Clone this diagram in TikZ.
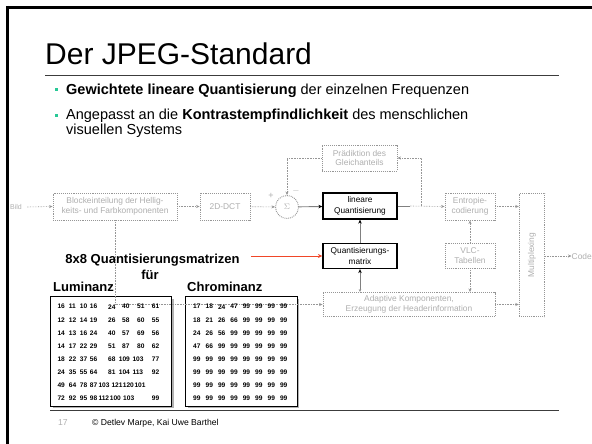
\documentclass[tikz,border=0pt]{standalone}
\usepackage{fontspec}
\setmainfont{Liberation Sans}
\usetikzlibrary{arrows.meta,calc}

\definecolor{dgray}{RGB}{150,150,150}
\definecolor{ltext}{RGB}{175,175,175}
\definecolor{bulletc}{RGB}{40,200,150}
\definecolor{redarrow}{RGB}{240,70,40}
\definecolor{rulec}{RGB}{60,60,60}

\begin{document}
\begin{tikzpicture}[x=1pt,y=-1pt,
  gbox/.style={draw=dgray, densely dotted, line width=0.9pt, text=ltext,
    font=\fontsize{8.4}{9.8}\selectfont, align=center, inner sep=0pt},
  kbox/.style={draw=black, line width=1.3pt, font=\fontsize{8.3}{10.5}\selectfont,
    align=center, inner sep=0pt},
  gline/.style={draw=dgray, densely dotted, line width=0.6pt},
  gtip/.style={-{Stealth[length=3.5pt,width=3pt]}},
  ktip/.style={draw=gray, line width=0.9pt, -{Stealth[length=4pt,width=3.5pt,color=black]}},
  bullet/.style={fill=bulletc, minimum size=3pt, inner sep=0pt},
  btext/.style={anchor=base west, inner sep=0pt, font=\fontsize{14.5}{17}\selectfont},
  tab/.style={draw=black, line width=0.8pt, fill=white, inner sep=0pt},
  num/.style={inner sep=0pt, font=\fontsize{6.6}{8}\selectfont\bfseries},
  heading/.style={inner sep=0pt, font=\fontsize{13}{15}\selectfont\bfseries}
]
\useasboundingbox (0,0) rectangle (592,444);
\fill[white] (0,0) rectangle (592,444);

% slide frame
\draw[line width=2.5pt] (6,7.5) -- (592,7.5);
\draw[line width=3pt] (7.5,6) -- (7.5,444);

% title and rule
\node[anchor=base west, inner sep=0pt, font=\fontsize{30}{36}\selectfont] (title) at (45,65) {Der JPEG-Standard};
\coordinate (tr1) at (45,75);
\coordinate (tr2) at (559,75);
\draw[rulec, line width=0.8pt] (tr1) -- (tr2);

% bullets
\node[bullet] (b1) at (56,90) {};
\node[btext] (t1) at (66,95) {\textbf{Gewichtete lineare Quantisierung} der einzelnen Frequenzen};
\node[bullet] (b2) at (56,115) {};
\node[btext] (t2) at (66,120) {Angepasst an die \textbf{Kontrastempfindlichkeit} des menschlichen};
\node[btext] (t3) at (66,135) {visuellen Systems};

% encoder block diagram
\node[text=ltext, font=\fontsize{7}{8}\selectfont, inner sep=0pt] (bild) at (16,207) {Bild};
\node[gbox, minimum width=124, minimum height=27] (block) at (115,206.5) {Blockeinteilung der Hellig-\\keits- und Farbkomponenten};
\node[gbox, minimum width=50, minimum height=27] (dct) at (225,206.5) {2D-DCT};
\node[gbox, circle, minimum size=23] (sigma) at (287,207) {$\Sigma$};
\node[text=ltext, font=\fontsize{9}{10}\selectfont, inner sep=0pt] (plus) at (271,196) {+};
\node[text=ltext, font=\fontsize{9}{10}\selectfont, inner sep=0pt] (minus) at (296,191) {$-$};
\node[kbox, minimum width=74, minimum height=26] (linq) at (360,206) {lineare\\Quantisierung};
\node[kbox, minimum width=74, minimum height=25] (qmat) at (360,256) {Quantisierungs-\\matrix};
\node[gbox, minimum width=75, minimum height=26] (pred) at (359.5,158) {Prädiktion des\\Gleichanteils};
\node[gbox, minimum width=50, minimum height=27] (entr) at (470,206.5) {Entropie-\\codierung};
\node[gbox, minimum width=50, minimum height=25] (vlc) at (470,255.5) {VLC-\\Tabellen};
\node[gbox, minimum width=172, minimum height=24] (adapt) at (409,304.5) {Adaptive Komponenten,\\Erzeugung der Headerinformation};
\node[gbox, minimum width=25.5, minimum height=123.5] (mux) at (532,255) {};
\node[rotate=90, text=ltext, font=\fontsize{8.4}{9.8}\selectfont, inner sep=0pt] (muxlabel) at (mux.center) {Multiplexing};
\node[anchor=west, text=ltext, font=\fontsize{8.4}{10}\selectfont, inner sep=0pt] (code) at (571.5,256) {Code};

\coordinate (qout) at (410,206);
\coordinate (tap) at (421.7,206);

\draw[gline, gtip] (bild.east) ++(5,0) -- (block.west);
\draw[gline, gtip] (block) -- (dct);
\draw[gline, gtip] (dct) -- (sigma);
\draw[ktip] (sigma) -- (linq);
\draw[draw=gray, line width=1pt] (linq.east) -- (qout);
\draw[gline, gtip] (qout) -- (entr.west);
\draw[gline, gtip] (tap) |- (pred.east);
\draw[gline, gtip] (pred.west) -| (sigma.north);
\draw[ktip] (qmat) -- (linq);
\draw[draw=gray, line width=0.8pt, {Stealth[length=3pt,width=2.5pt,color=dgray]}-{Stealth[length=4pt,width=3.5pt,color=black]}] (adapt.north -| qmat) -- (qmat.south);
\draw[gline, gtip] (vlc) -- (entr);
\draw[gline, gtip] (vlc) -- (adapt.north -| vlc);
\draw[gline, gtip] (entr.east) -- (entr.east -| mux.west);
\draw[gline, gtip] (adapt.east) -- (adapt.east -| mux.west);
\draw[gline, gtip] (mux.east |- code) -- (code.west);

% quantisation matrices
\node[heading] (hq) at (152.5,260) {8x8 Quantisierungsmatrizen};
\node[heading] (hfur) at (150,275) {für};
\node[heading, anchor=west] (hlum) at (53,287) {Luminanz};
\node[heading, anchor=west] (hchr) at (187,287) {Chrominanz};
\draw[redarrow, line width=0.9pt, -{Stealth[length=4.5pt,width=4pt]}] (hq.east) ++(11,-4) coordinate (rstart) -- (rstart -| qmat.west);

\fill[gray!60] (52.7,298.7) rectangle (173.7,408);
\fill[gray!60] (187.7,298.7) rectangle (299,408);
\node[tab, minimum width=121, minimum height=109.3] (lum) at (111.2,351.3) {};
\node[tab, minimum width=111.3, minimum height=109.3] (chr) at (241.3,351.3) {};

% side path from the block splitter to the header generation
\draw[gline, gtip] (block.south) |- (adapt.west);

% luminance table: value/left edge of each entry
\foreach \row [count=\r] in {
  {16/57.3,11/68.7,10/79.7,16/89.7,24/108,40/122,51/137,61/151.7},
  {12/57.3,12/68.7,14/79.7,19/89.7,26/108,58/122,60/137,55/151.7},
  {14/57.3,13/68.7,16/79.7,24/89.7,40/108,57/122,69/137,56/151.7},
  {14/57.3,17/68.7,22/79.7,29/89.7,51/108,87/122,80/137,62/151.7},
  {18/57.3,22/68.7,37/79.7,56/89.7,68/108,109/118.7,103/132.3,77/151.7},
  {24/57.3,35/68.7,55/79.7,64/89.7,81/108,104/118.7,113/132.3,92/151.7},
  {49/57.3,64/68.7,78/79.7,87/89.7,103/98.3,121/111.3,120/122.7,101/134.3},
  {72/57.3,92/68.7,95/79.7,98/89.7,112/98.3,100/109.7,103/123,99/151.7}}{
  \foreach \v/\xx [count=\c] in \row {
    \node[num, anchor=west] (L-\r-\c) at (\xx,306.7+13.1*\r-13.1) {\v};
  }
}
% chrominance table
\foreach \row [count=\r] in {{17,18,24,47,99,99,99,99},{18,21,26,66,99,99,99,99},
  {24,26,56,99,99,99,99,99},{47,66,99,99,99,99,99,99},{99,99,99,99,99,99,99,99},
  {99,99,99,99,99,99,99,99},{99,99,99,99,99,99,99,99},{99,99,99,99,99,99,99,99}}{
  \foreach \v [count=\c] in \row {
    \node[num, anchor=west] (C-\r-\c) at (193+12.4*\c-12.4,306.7+13.1*\r-13.1) {\v};
  }
}

% footer
\coordinate (fr1) at (50,410);
\coordinate (fr2) at (559,410);
\draw[rulec, line width=0.8pt] (fr1) -- (fr2);
\node[anchor=west, text=ltext, font=\fontsize{8.6}{10}\selectfont, inner sep=0pt] (pageno) at (58,423) {17};
\node[anchor=west, font=\fontsize{8.6}{10}\selectfont, inner sep=0pt] (copy) at (92,423) {© Detlev Marpe, Kai Uwe Barthel};
\end{tikzpicture}
\end{document}
